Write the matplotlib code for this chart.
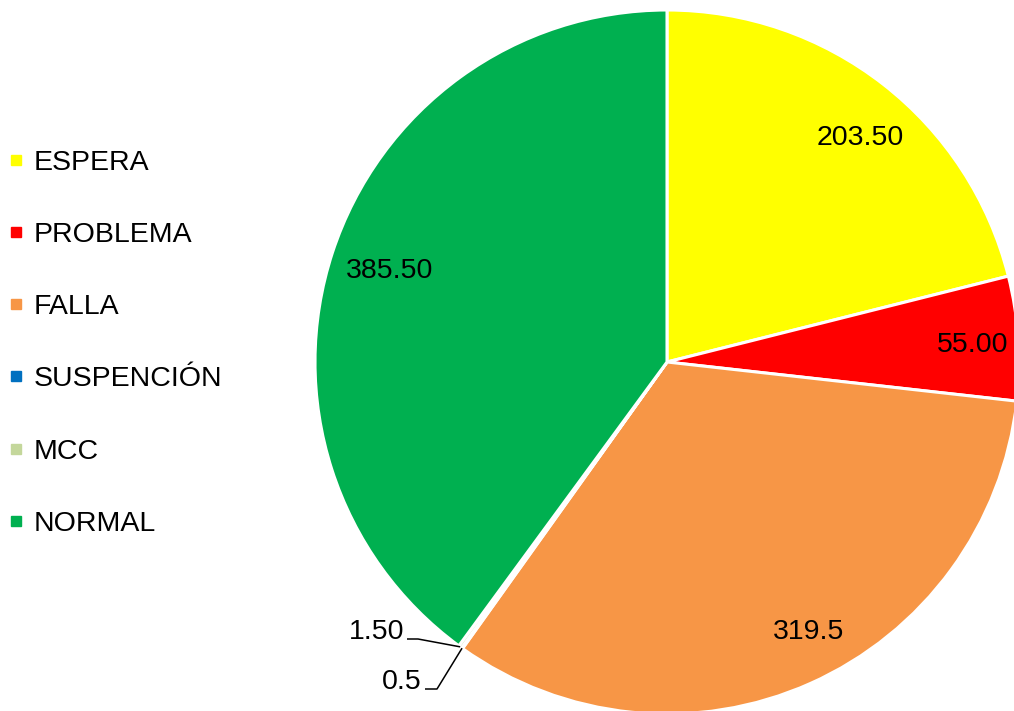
import numpy as np
import matplotlib.pyplot as plt
from matplotlib.lines import Line2D

plt.rcParams['font.family'] = ['Liberation Sans', 'DejaVu Sans']

# datos del gráfico
categorias = ["ESPERA", "PROBLEMA", "FALLA", "SUSPENCIÓN", "MCC", "NORMAL"]
horas = [203.50, 55.00, 319.5, 0.5, 1.50, 385.50]
etiquetas = ["203.50", "55.00", "319.5", "0.5", "1.50", "385.50"]
colores = ["#FFFF00", "#FF0000", "#F79646", "#0070C0", "#C4D79B", "#00B050"]

W, H = 1014, 711
fig = plt.figure(figsize=(W / 100, H / 100), dpi=100)
ax = fig.add_axes([0, 0, 1, 1])

centro = (667, 349)
radio = 352
wedges, _ = ax.pie(horas, colors=colores, startangle=90, counterclock=False,
                   center=centro, radius=radio, frame=True,
                   wedgeprops=dict(edgecolor='white', linewidth=2.2))
ax.set_xlim(0, W)
ax.set_ylim(0, H)
ax.set_aspect('equal')
ax.axis('off')

fs = 20.5
# etiquetas dentro de los sectores grandes (ajuste de ángulo y radio)
ajuste = {0: (-2.8, 0.84), 1: (-0.6, 0.87), 2: (3.6, 0.865), 5: (0.0, 0.83)}
for i, w in enumerate(wedges):
    medio = (w.theta1 + w.theta2) / 2
    if i in ajuste:
        da, fr = ajuste[i]
        a = np.deg2rad(medio + da)
        x = centro[0] + radio * fr * np.cos(a)
        y = centro[1] + radio * fr * np.sin(a)
        ax.text(x, y, etiquetas[i], fontsize=fs, ha='center', va='center')

# sectores pequeños con línea guía
guias = {4: (404, 81, 418), 3: (422, 31, 437)}
for i, (xt, yt, xq) in guias.items():
    w = wedges[i]
    a = np.deg2rad((w.theta1 + w.theta2) / 2)
    px = centro[0] + radio * np.cos(a)
    py = centro[1] + radio * np.sin(a)
    ax.plot([xt + 3, xq, px], [yt - 9, yt - 9, py], color='black', lw=1.1,
            solid_capstyle='butt')
    ax.text(xt, yt - 9, etiquetas[i], fontsize=fs, ha='right', va='baseline')

# leyenda
manijas = [Line2D([], [], marker='s', linestyle='none', markersize=7,
                  markerfacecolor=c, markeredgecolor=c) for c in colores]
ax.legend(manijas, categorias, loc='upper left', bbox_to_anchor=(0.002, 0.797),
          frameon=False, fontsize=fs, labelspacing=1.62, handlelength=0.6,
          handletextpad=0.3, borderaxespad=0.0, borderpad=0.2)

fig.savefig('out.png', dpi=100)
